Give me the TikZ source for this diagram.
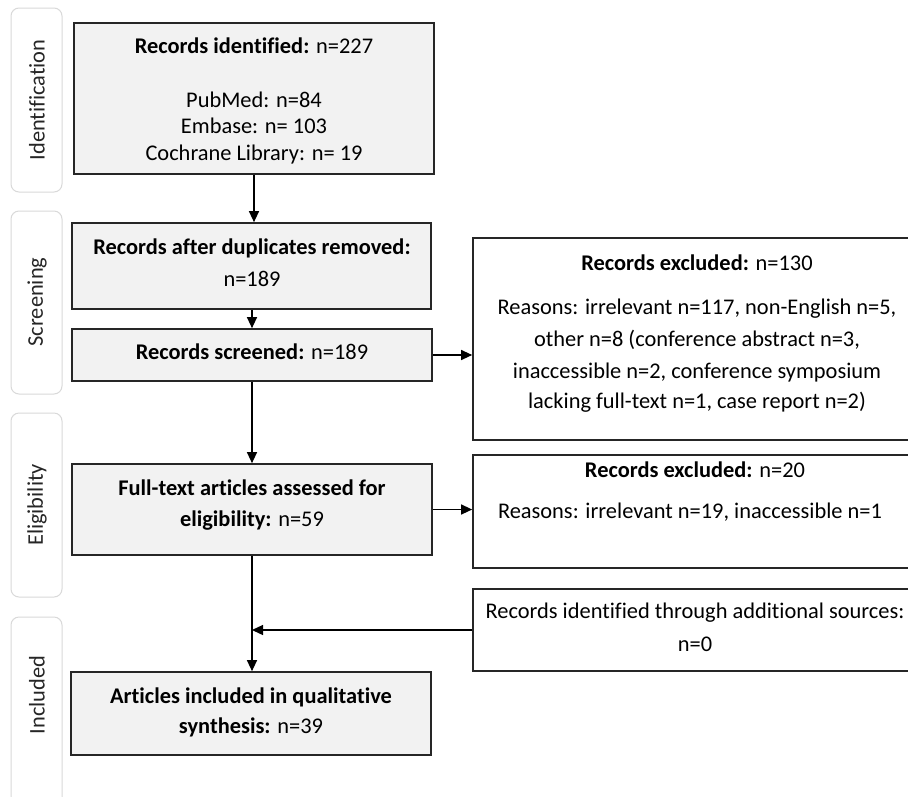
\documentclass[tikz,border=0pt]{standalone}
\usepackage{fontspec}
\setmainfont{Carlito}[Ligatures=NoCommon]
\usetikzlibrary{arrows.meta}
\definecolor{boxfill}{HTML}{F2F2F2}
\definecolor{boxline}{HTML}{262626}
\definecolor{sideline}{HTML}{D9D9D9}
\begin{document}
\begin{tikzpicture}[x=1pt,y=-1pt,
  mainbox/.style={draw=boxline, line width=1.7pt, fill=boxfill, inner sep=0pt},
  rightbox/.style={draw=boxline, line width=1.7pt, fill=white, inner sep=0pt},
  sidebox/.style={draw=sideline, line width=1pt, rounded corners=8pt, inner sep=0pt},
  txt/.style={font=\fontsize{22.4}{26}\selectfont, anchor=base, inner sep=0pt},
  sidelabel/.style={font=\fontsize{22.4}{26}\selectfont, rotate=90, text=black!85, inner sep=0pt},
  arr/.style={line width=1.3pt, draw=black, -{Triangle[length=11pt,width=10pt]}},
]
\clip (0,0) rectangle (908,796);
\fill[white] (0,0) rectangle (908,796);

% side panels
\node[sidebox, minimum width=51pt, minimum height=184pt] (sid) at (36.5,100) {};
\node[sidebox, minimum width=51pt, minimum height=183pt] (sscr) at (36.5,302.5) {};
\node[sidebox, minimum width=51pt, minimum height=184pt] (seli) at (36.5,505) {};
\node[sidebox, minimum width=51pt, minimum height=206pt] (sinc) at (36.5,720) {};
\node[sidelabel] (lid) at (37,100) {Identification};
\node[sidelabel] (lscr) at (37,302) {Screening};
\node[sidelabel] (leli) at (37,505) {Eligibility};
\node[sidelabel] (linc) at (37,695) {Included};

% main boxes
\node[mainbox, minimum width=360pt, minimum height=151pt] (b1) at (254,98.5) {};
\node[mainbox, minimum width=359pt, minimum height=86pt] (b2) at (251.5,266) {};
\node[mainbox, minimum width=360pt, minimum height=52pt] (b3) at (252,355) {};
\node[mainbox, minimum width=360pt, minimum height=91pt] (b4) at (252,509.5) {};
\node[mainbox, minimum width=360pt, minimum height=83pt] (b5) at (251,713.5) {};

% right boxes
\node[rightbox, minimum width=452pt, minimum height=202pt] (r1) at (699,339) {};
\node[rightbox, minimum width=452pt, minimum height=113pt] (r2) at (699,511.5) {};
\node[rightbox, minimum width=452pt, minimum height=82pt] (r3) at (699,630) {};

% texts
\node[txt] (t1a) at (254,53) {\textbf{Records identified:} n=227};
\node[txt] (t1b) at (254,107) {PubMed: n=84};
\node[txt] (t1c) at (254,133) {Embase: n= 103};
\node[txt] (t1d) at (254,160) {Cochrane Library: n= 19};

\node[txt] (t2a) at (252,254) {\textbf{Records after duplicates removed:}};
\node[txt] (t2b) at (252,286) {n=189};

\node[txt] (t3a) at (252,359) {\textbf{Records screened:} n=189};

\node[txt] (t4a) at (252,495) {\textbf{Full-text articles assessed for}};
\node[txt] (t4b) at (252,526) {\textbf{eligibility:} n=59};

\node[txt] (t5a) at (251,703) {\textbf{Articles included in qualitative}};
\node[txt] (t5b) at (251,733) {\textbf{synthesis:} n=39};

\node[txt] (tr1a) at (697,270) {\textbf{Records excluded:} n=130};
\node[txt] (tr1b) at (697,314) {Reasons: irrelevant n=117, non-English n=5,};
\node[txt] (tr1c) at (697,346) {other n=8 (conference abstract n=3,};
\node[txt] (tr1d) at (697,378) {inaccessible n=2, conference symposium};
\node[txt] (tr1e) at (697,408) {lacking full-text n=1, case report n=2)};

\node[txt] (tr2a) at (695,477) {\textbf{Records excluded:} n=20};
\node[txt] (tr2b) at (690,518) {Reasons: irrelevant n=19, inaccessible n=1};

\node[txt] (tr3a) at (695,618) {Records identified through additional sources:};
\node[txt] (tr3b) at (695,651) {n=0};

% connectors
\draw[arr] (b1.south) -- (b1.south |- b2.north);
\draw[arr] (b3.north |- b2.south) -- (b3.north);
\draw[arr] (b3.south) -- (b3.south |- b4.north);
\draw[arr] (b3.south |- b4.south) -- (b3.south |- b5.north);
\draw[arr] (b3.east) -- (b3.east -| r1.west);
\draw[arr] (b4.east) -- (b4.east -| r2.west);
\draw[arr] (r3.west) -- (r3.west -| b3.south);
\end{tikzpicture}
\end{document}
